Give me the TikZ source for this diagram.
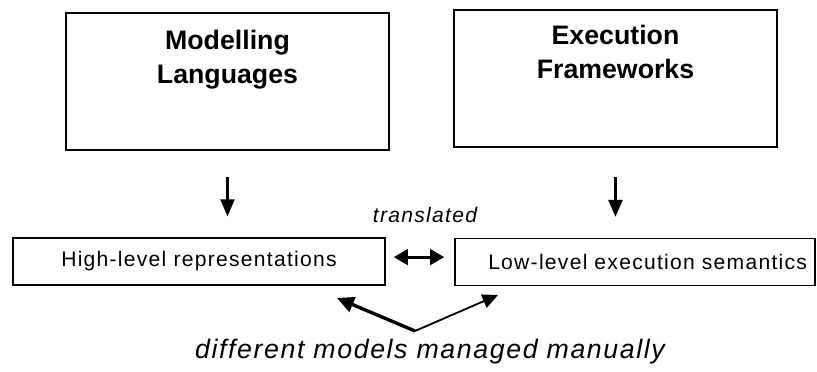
\documentclass[tikz,border=0pt]{standalone}
\usepackage{fontspec}
\setmainfont{Liberation Sans}
\newfontfamily\sperrfont[LetterSpace=6]{Liberation Sans}
\usetikzlibrary{arrows.meta,positioning}

\tikzset{
  grossbox/.style={rectangle, draw, line width=1.4pt, minimum width=8.075cm, minimum height=3.425cm, inner sep=0pt},
  kleinbox/.style={rectangle, draw, line width=1pt, minimum height=1.175cm, inner sep=0pt, font=\sperrfont\fontsize{15}{18}\selectfont},
  kopftext/.style={inner sep=0pt, align=center, font=\bfseries\fontsize{19}{24}\selectfont},
  pfeil/.style={-{Triangle[length=12pt,width=10pt]}, line width=1.5pt},
}

\begin{document}
\begin{tikzpicture}[x=0.025cm, y=-0.025cm]
        % Umgebung
        \useasboundingbox (0,0) rectangle (817,372);
        % Rechteck - Modelling Languages
        \node at (227.5,81.5) [grossbox] (ml) {};
        \node[kopftext, below=0.45cm of ml.north] (mltext) {Modelling\\Languages};
        % Rechteck - Execution Frameworks
        \node at (615.5,78.5) [grossbox] (ef) {};
        \node[kopftext, below=0.4cm of ef.north] (eftext) {Execution\\Frameworks};
        % Rechteck - High-level
        \node at (199,261.5) [kleinbox, minimum width=9.3cm] (hl) {High-level representations};
        % Rechteck - Low-level
        \node at (635,262) [kleinbox, minimum width=9cm, text width=8.6cm, align=right] (ll) {Low-level execution semantics};
        % Pfeile nach unten
        \draw[pfeil, shorten <=0.65cm, shorten >=0.525cm] (ml.south) -- (ml.south |- hl.north);
        \draw[pfeil, shorten <=0.725cm, shorten >=0.525cm] (ef.south) -- (ef.south |- ll.north);
        % translated
        \node[anchor=base, font=\sperrfont\itshape\fontsize{15}{18}\selectfont] at (425,223) (trans) {translated};
        % Doppelpfeil
        \coordinate (tmitte) at ([yshift=0.11cm]hl.east);
        \draw[{Triangle[length=10pt,width=11pt]}-{Triangle[length=10pt,width=11pt]}, line width=2pt, shorten <=0.2cm, shorten >=0.25cm] (tmitte) -- (tmitte -| ll.west);
        % Pfeile - different models
        \coordinate (knick) at (415,331);
        \coordinate (lspitze) at (337,298);
        \coordinate (rspitze) at (498,295);
        \draw[-{Triangle[length=12pt,width=11pt]}, line width=2.4pt] (knick) -- (lspitze);
        \draw[-{Triangle[length=11pt,width=10pt]}, line width=1.3pt] (knick) -- (rspitze);
        % different models managed manually
        \node[anchor=base, font=\sperrfont\itshape\fontsize{19}{22}\selectfont] at (430,359) (manuell) {different models managed manually};
    \end{tikzpicture}
\end{document}
